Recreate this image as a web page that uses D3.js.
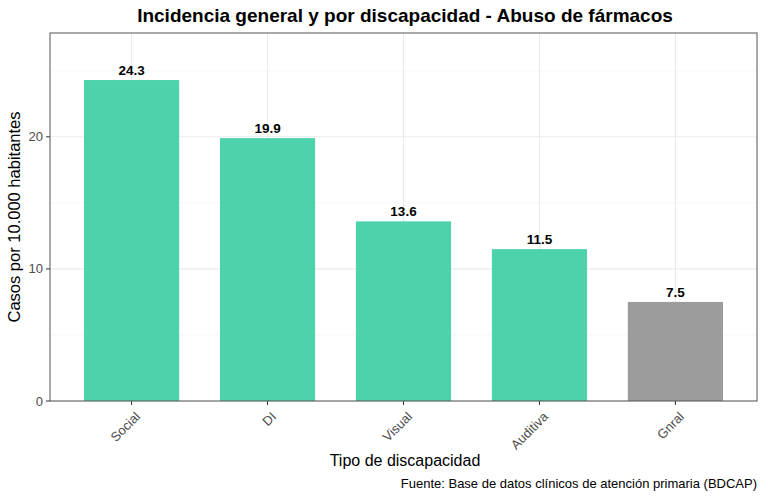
<!DOCTYPE html>
<html><head><meta charset="utf-8">
<script src="https://cdn.jsdelivr.net/npm/d3@7"></script>
<style>body{margin:0;background:#fff}svg{display:block;font-family:"Liberation Sans",Arial,sans-serif}</style>
</head><body><svg id="c" width="768" height="498"></svg>
<script>
const categories = ["Social","DI","Visual","Auditiva","Gnral"];
const values = [24.3, 19.9, 13.6, 11.5, 7.5];
const barColors = ["#48D1A8","#48D1A8","#48D1A8","#48D1A8","#999999"];
const yTicks = [0,10,20];
const yMinor = [5,15,25];

const svg = d3.select("#c");
const L=50, R=757, T=33, B=401;
const x = d3.scalePoint().domain(categories).range([L,R]).padding(0.6);
const step = x.step();
const bw = step*0.7;
const y = d3.scaleLinear().domain([0,27.86]).range([B,T]);

const g = svg.append("g");
g.append("rect").attr("x",L).attr("y",T).attr("width",R-L).attr("height",B-T).attr("fill","#fff");
g.selectAll(".mn").data(yMinor).join("line").attr("x1",L).attr("x2",R).attr("y1",d=>y(d)).attr("y2",d=>y(d)).attr("stroke","#f2f2f2").attr("stroke-width",0.6);
g.selectAll(".mj").data(yTicks).join("line").attr("x1",L).attr("x2",R).attr("y1",d=>y(d)).attr("y2",d=>y(d)).attr("stroke","#ebebeb").attr("stroke-width",1.1);
g.selectAll(".vx").data(categories).join("line").attr("y1",T).attr("y2",B).attr("x1",d=>x(d)).attr("x2",d=>x(d)).attr("stroke","#ebebeb").attr("stroke-width",1.1);

g.selectAll(".bar").data(categories).join("rect")
 .attr("x",d=>x(d)-bw/2).attr("width",bw)
 .attr("y",(d,i)=>y(values[i])).attr("height",(d,i)=>B-y(values[i]))
 .attr("fill",(d,i)=>barColors[i]).attr("fill-opacity",0.97);

g.selectAll(".lbl").data(categories).join("text")
 .attr("x",d=>x(d)).attr("y",(d,i)=>y(values[i])-5)
 .attr("text-anchor","middle").attr("font-weight","bold").attr("font-size",13.5).attr("fill","#000")
 .text((d,i)=>values[i].toFixed(1));

g.append("rect").attr("x",L).attr("y",T).attr("width",R-L).attr("height",B-T).attr("fill","none").attr("stroke","#555").attr("stroke-width",1);

// y axis
const ya = g.append("g");
ya.selectAll("line").data(yTicks).join("line").attr("x1",L-4).attr("x2",L).attr("y1",d=>y(d)).attr("y2",d=>y(d)).attr("stroke","#333");
ya.selectAll("text").data(yTicks).join("text").attr("x",L-7).attr("y",d=>y(d)).attr("dy","0.35em").attr("text-anchor","end").attr("font-size",13).attr("fill","#4d4d4d").text(d=>d);
// x axis
const xa = g.append("g");
xa.selectAll("line").data(categories).join("line").attr("x1",d=>x(d)).attr("x2",d=>x(d)).attr("y1",B).attr("y2",B+4).attr("stroke","#333");
xa.selectAll("text").data(categories).join("text")
 .attr("transform",d=>`translate(${x(d)+3},${B+10}) rotate(-45)`)
 .attr("text-anchor","end").attr("dy","0.7em").attr("font-size",13).attr("fill","#4d4d4d").text(d=>d);

svg.append("text").attr("x",405).attr("y",22).attr("text-anchor","middle").attr("font-weight","bold").attr("font-size",19).text("Incidencia general y por discapacidad - Abuso de fármacos");
svg.append("text").attr("transform",`translate(20,${(T+B)/2}) rotate(-90)`).attr("text-anchor","middle").attr("font-size",16.5).text("Casos por 10.000 habitantes");
svg.append("text").attr("x",405).attr("y",466).attr("text-anchor","middle").attr("font-size",16).text("Tipo de discapacidad");
svg.append("text").attr("x",R).attr("y",488).attr("text-anchor","end").attr("font-size",13).text("Fuente: Base de datos clínicos de atención primaria (BDCAP)");
</script></body></html>
